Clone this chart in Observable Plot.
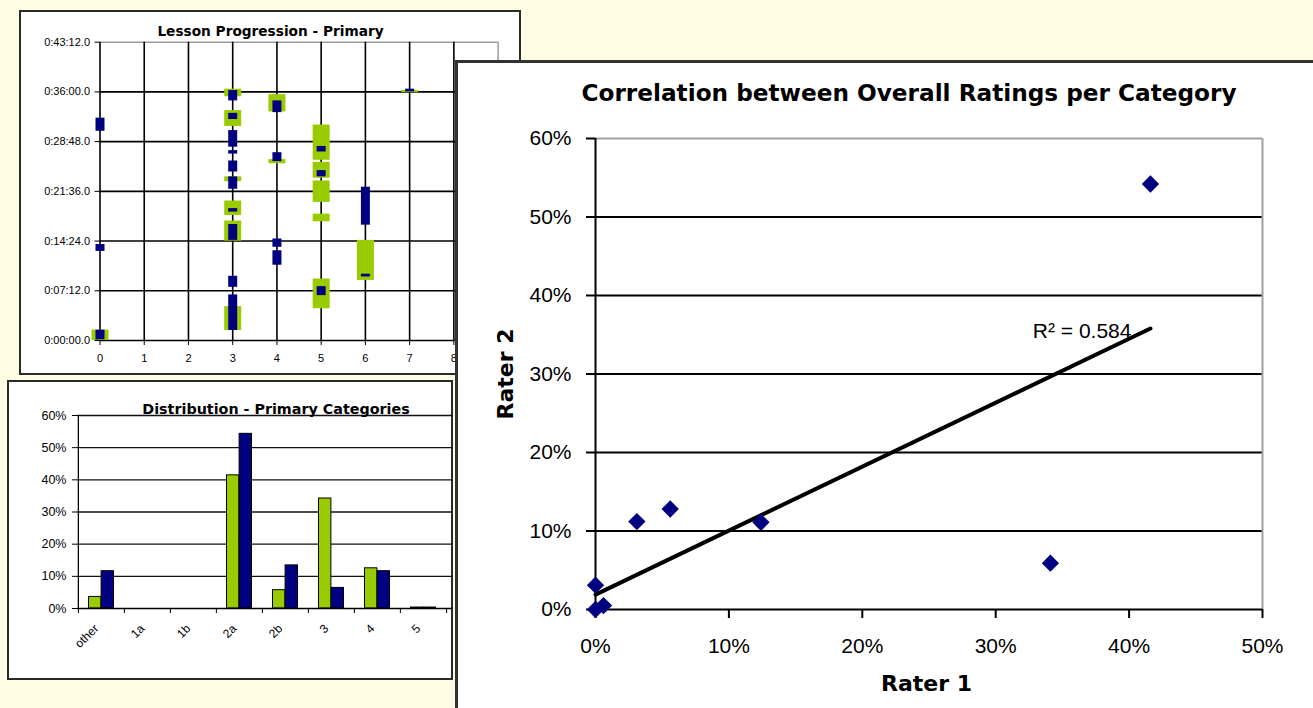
<!DOCTYPE html>
<html><head><meta charset="utf-8">
<script src="https://cdn.jsdelivr.net/npm/d3@7"></script>
<script src="https://cdn.jsdelivr.net/npm/@observablehq/plot@0.6"></script>
<style>
html,body{margin:0;padding:0;width:1313px;height:708px;overflow:hidden;background:#FFFEE3;}
.panel{position:absolute;box-sizing:border-box;background:#fff;}
.panel svg{position:absolute;max-width:none !important;}
</style></head><body>
<div id="p1" class="panel" style="left:19px;top:10px;width:502px;height:365px;border:2px solid #2a2a2a;"></div>
<div id="p2" class="panel" style="left:7px;top:380px;width:446px;height:300px;border:2px solid #2a2a2a;"></div>
<div id="p3" class="panel" style="left:455px;top:60px;width:858px;height:648px;border-left:3px solid #333;border-top:3px solid #333;"></div>
<script>
// ---------------- data: Lesson Progression - Primary ----------------
const lessonTitle = "Lesson Progression - Primary";
const lessonXTicks = [0, 1, 2, 3, 4, 5, 6, 7, 8, 9];
const lessonYTicks = [0, 7.2, 14.4, 21.6, 28.8, 36, 43.2]; // minutes
const lessonYLabels = ["0:00:00.0", "0:07:12.0", "0:14:24.0", "0:21:36.0", "0:28:48.0", "0:36:00.0", "0:43:12.0"];
// rater 1 (green) segments: category, start minute, end minute
const lessonR1Cat   = [0,   3,    3,    3,    3,    3,    3,    4,    4,    5,    5,    5,    5,    5,   6,    7];
const lessonR1Start = [0,   35.3, 31.0, 23.0, 18.1, 14.4, 1.45, 33.1, 25.6, 26.1, 23.5, 20.0, 17.2, 4.6, 8.7,  35.9];
const lessonR1End   = [1.5, 36.4, 33.3, 23.7, 20.2, 17.3, 4.9,  35.6, 26.2, 31.2, 25.8, 23.1, 18.3, 8.9, 14.5, 36.2];
// rater 2 (navy) segments
const lessonR2Cat   = [0,    0,    0,   3,    3,    3,    3,    3,    3,    3,    3,    3,   3,    4,    4,    4,    4,    5,    5,    5,   6,    6,   7];
const lessonR2Start = [30.3, 12.9, 0.1, 34.7, 32.0, 28.0, 27.0, 24.4, 21.9, 18.6, 14.5, 7.7, 1.45, 33.0, 25.9, 13.5, 10.9, 27.3, 23.7, 6.5, 16.7, 9.2, 36.0];
const lessonR2End   = [32.2, 13.9, 1.5, 36.2, 32.9, 30.4, 27.5, 26.0, 23.7, 19.1, 16.8, 9.3, 6.6,  34.7, 27.2, 14.7, 13.0, 28.1, 24.6, 7.8, 22.2, 9.6, 36.4];

// ---------------- data: Distribution - Primary Categories ----------------
const distTitle = "Distribution - Primary Categories";
const distCategories = ["other", "1a", "1b", "2a", "2b", "3", "4", "5"];
const distRater1 = [3.6, 0, 0, 41.4, 5.7, 34.2, 12.5, 0.3];
const distRater2 = [11.6, 0, 0, 54.3, 13.4, 6.4, 11.6, 0.3];
const distYTicks = [0, 10, 20, 30, 40, 50, 60];

// ---------------- data: Correlation ----------------
const corrTitle = "Correlation between Overall Ratings per Category";
const corrXLabel = "Rater 1";
const corrYLabel = "Rater 2";
const corrRater1 = [41.6, 34.1, 12.4, 5.6, 3.1, 0, 0, 0.6];
const corrRater2 = [54.2, 5.9, 11.1, 12.8, 11.2, 3.1, 0, 0.5];
const corrXTicks = [0, 10, 20, 30, 40, 50];
const corrYTicks = [0, 10, 20, 30, 40, 50, 60];
const trendX = [0, 41.6];
const trendY = [1.9, 35.8];
const r2Label = "R\u00B2 = 0.584";

const GREEN = "#99CC00", NAVY = "#000080";
const SANS = "'Liberation Sans', Arial, sans-serif";
const BOLD = "'DejaVu Sans', 'Liberation Sans', sans-serif";

function place(id, svg, off) {
  svg.style.left = -off + "px";
  svg.style.top = -off + "px";
  document.getElementById(id).appendChild(svg);
}

// ---------- Panel 1 ----------
const r1seg = lessonR1Cat.map((c, i) => ({cat: c, start: lessonR1Start[i], end: lessonR1End[i]}));
const r2seg = lessonR2Cat.map((c, i) => ({cat: c, start: lessonR2Start[i], end: lessonR2End[i]}));
const p1 = Plot.plot({
  width: 502, height: 365,
  marginLeft: 80.5, marginRight: 23.4, marginTop: 31.7, marginBottom: 35,
  style: {background: "transparent", fontFamily: SANS, fontSize: "11px", color: "#000"},
  x: {domain: [0, 9]},
  y: {domain: [0, 43.2]},
  marks: [
    Plot.ruleY(lessonYTicks.slice(1, -1), {stroke: "#000", strokeWidth: 1.6}),
    Plot.ruleY(lessonYTicks.slice(-1), {stroke: "#9a9a9a", strokeWidth: 1.5}),
    Plot.ruleX(lessonXTicks.slice(1, -1), {stroke: "#000", strokeWidth: 1.6}),
    Plot.ruleX(lessonXTicks.slice(-1), {stroke: "#9a9a9a", strokeWidth: 1.5}),
    Plot.ruleX(lessonXTicks.slice(0, 1), {stroke: "#000", strokeWidth: 1.6}),
    Plot.ruleY(lessonYTicks.slice(0, 1), {stroke: "#000", strokeWidth: 1.6}),
    Plot.axisY({ticks: lessonYTicks, tickFormat: d => lessonYLabels[lessonYTicks.indexOf(d)], tickSize: 5, tickPadding: 5, label: null}),
    Plot.axisX({ticks: lessonXTicks, tickSize: 5, tickPadding: 9, label: null}),
    Plot.ruleX(r1seg, {x: "cat", y1: "start", y2: "end", stroke: GREEN, strokeWidth: 17}),
    Plot.ruleX(r2seg, {x: "cat", y1: "start", y2: "end", stroke: NAVY, strokeWidth: 9}),
    Plot.text([lessonTitle], {frameAnchor: "top-left", text: d => d, dx: 170.5, dy: -6.7, textAnchor: "middle", lineAnchor: "bottom",
      fontFamily: BOLD, fontWeight: "bold", fontSize: 13.7, fill: "#000"})
  ]
});
place("p1", p1, 2);

// ---------- Panel 2 ----------
const bw = (446 - 70 - 6) / distCategories.length;
const p2 = Plot.plot({
  width: 446, height: 300,
  marginLeft: 70, marginRight: 6, marginTop: 35, marginBottom: 72,
  style: {background: "transparent", fontFamily: SANS, fontSize: "12.5px", color: "#000"},
  x: {domain: distCategories, padding: 0},
  y: {domain: [0, 60]},
  marks: [
    Plot.ruleY(distYTicks.slice(1), {stroke: "#111", strokeWidth: 1.3, insetRight: -6}),
    Plot.barY(distCategories, {x: d => d, y: (d, i) => distRater1[i], fill: GREEN, stroke: "#000", strokeWidth: 1, insetLeft: 10.5, insetRight: 23.1}),
    Plot.barY(distCategories, {x: d => d, y: (d, i) => distRater2[i], fill: NAVY, stroke: "#000", strokeWidth: 1, insetLeft: 23.1, insetRight: 10.5}),
    Plot.ruleY([0], {stroke: "#000", strokeWidth: 1.3, insetRight: -6}),
    Plot.ruleX(distCategories.slice(0, 1), {dx: -bw / 2, stroke: "#000", strokeWidth: 1.3}),
    Plot.axisY({ticks: distYTicks, tickFormat: d => d + "%", tickSize: 5, tickPadding: 6, label: null}),
    Plot.axisX({tickSize: 5, tickFormat: () => "", dx: -bw / 2, label: null}),
    Plot.axisX({ticks: distCategories.slice(-1), tickSize: 5, tickFormat: () => "", dx: bw / 2, label: null}),
    Plot.axisX({tickSize: 0, tickRotate: -45, tickPadding: 18, dx: -5, fontSize: 12, label: null}),
    Plot.text([distTitle], {frameAnchor: "top-left", text: d => d, dx: 198.5, dy: -2, textAnchor: "middle", lineAnchor: "bottom",
      fontFamily: BOLD, fontWeight: "bold", fontSize: 14.3, fill: "#000"})
  ]
});
place("p2", p2, 2);

// ---------- Panel 3 ----------
const corrPoints = corrRater1.map((x, i) => ({x, y: corrRater2[i]}));
const trend = trendX.map((x, i) => ({x, y: trendY[i]}));
const p3 = Plot.plot({
  width: 858, height: 648,
  marginLeft: 140, marginRight: 51, marginTop: 78, marginBottom: 99,
  style: {background: "transparent", fontFamily: SANS, fontSize: "21px", color: "#000"},
  x: {domain: [0, 50]},
  y: {domain: [0, 60]},
  marks: [
    Plot.ruleY(corrYTicks.slice(1, -1), {stroke: "#000", strokeWidth: 2}),
    Plot.ruleY(corrYTicks.slice(-1), {stroke: "#a0a0a0", strokeWidth: 2}),
    Plot.ruleX(corrXTicks.slice(-1), {stroke: "#a0a0a0", strokeWidth: 2}),
    Plot.ruleX(corrXTicks.slice(0, 1), {stroke: "#000", strokeWidth: 2}),
    Plot.ruleY(corrYTicks.slice(0, 1), {stroke: "#000", strokeWidth: 2}),
    Plot.axisY({ticks: corrYTicks, tickFormat: d => d + "%", tickSize: 9, tickPadding: 15, strokeWidth: 2, label: null}),
    Plot.axisX({ticks: corrXTicks, tickFormat: d => d + "%", tickSize: 9, tickPadding: 20, strokeWidth: 2, label: null}),
    Plot.line(trend, {x: "x", y: "y", stroke: "#000", strokeWidth: 4}),
    Plot.dot(corrPoints, {x: "x", y: "y", symbol: "diamond2", r: 7.8, fill: NAVY, stroke: "none"}),
    Plot.text([{x: trendX[1], y: trendY[1], label: r2Label}], {x: "x", y: "y", text: "label", textAnchor: "end", lineAnchor: "bottom", dx: -19, dy: 9.5, fontSize: 21, fill: "#000"}),
    Plot.text([corrTitle], {frameAnchor: "top-left", text: d => d, dx: 313.5, dy: -38, textAnchor: "middle", lineAnchor: "bottom",
      fontFamily: BOLD, fontWeight: "bold", fontSize: 23.2, fill: "#000"}),
    Plot.text([corrXLabel], {frameAnchor: "bottom-left", text: d => d, dx: 331, dy: 81, textAnchor: "middle", lineAnchor: "bottom",
      fontFamily: BOLD, fontWeight: "bold", fontSize: 22, fill: "#000"}),
    Plot.text([corrYLabel], {frameAnchor: "left", text: d => d, dx: -83, dy: 0, rotate: -90, textAnchor: "middle", lineAnchor: "bottom",
      fontFamily: BOLD, fontWeight: "bold", fontSize: 22, fill: "#000"})
  ]
});
place("p3", p3, 3);
</script>
</body></html>
